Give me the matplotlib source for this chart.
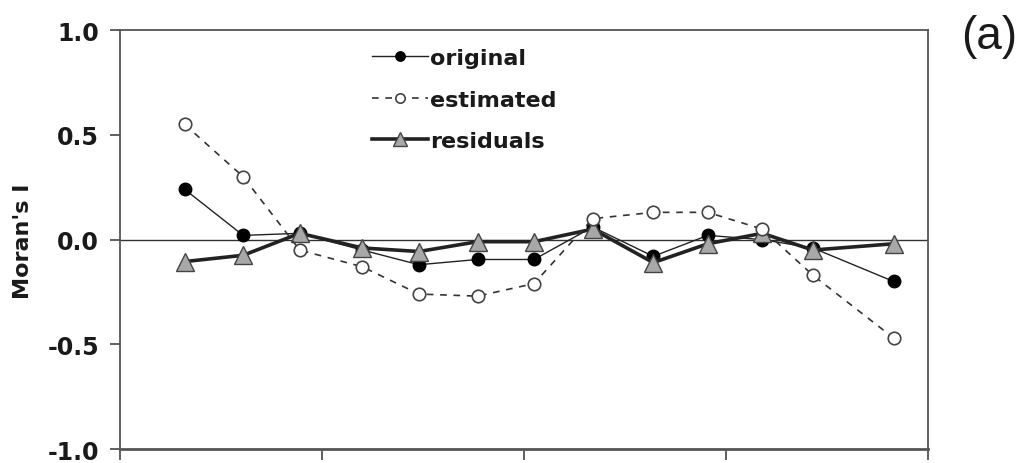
import numpy as np
import matplotlib.pyplot as plt

plt.rcParams['font.family'] = ['DejaVu Sans']
plt.rcParams['font.weight'] = 'bold'

# lag positions (axis has unlabelled ticks at 0..4)
lags = [0.32, 0.61, 0.89, 1.20, 1.48, 1.77, 2.05, 2.34, 2.64, 2.91, 3.18, 3.43, 3.83]
original = [0.24, 0.02, 0.03, -0.05, -0.12, -0.095, -0.095, 0.06, -0.08, 0.02, 0.0, -0.04, -0.20]
estimated = [0.55, 0.30, -0.05, -0.13, -0.26, -0.27, -0.21, 0.10, 0.13, 0.13, 0.05, -0.17, -0.47]
residuals = [-0.105, -0.075, 0.03, -0.04, -0.057, -0.01, -0.01, 0.05, -0.11, -0.02, 0.03, -0.05, -0.02]

fig = plt.figure(figsize=(10.2, 4.64), dpi=100)
ax = fig.add_axes([0.1176, 0.030, 0.7922, 0.903])

ax.axhline(0, color='#333333', lw=1.0, zorder=1)

ax.plot(lags, original, color='#222222', lw=1.0, marker='o', ms=9,
        mfc='black', mec='black', label='original', zorder=3)
ax.plot(lags, residuals, color='#222222', lw=2.6, marker='^', ms=13,
        mfc='#a8a8a8', mec='#444444', mew=1.0, label='residuals', zorder=4)
ax.plot(lags, estimated, color='#333333', lw=1.2, ls=(0, (4, 4)), marker='o', ms=9,
        mfc='white', mec='#444444', mew=1.2, label='estimated', zorder=5)

ax.set_xlim(0, 4)
ax.set_ylim(-1, 1)
ax.set_xticks([0, 1, 2, 3, 4])
ax.set_xticklabels([])
ax.set_yticks([-1.0, -0.5, 0.0, 0.5, 1.0])
ax.set_yticklabels(['-1.0', '-0.5', '0.0', '0.5', '1.0'])
ax.tick_params(axis='y', direction='out', length=7, width=1.2, color='#444444',
               labelsize=17, pad=8, labelcolor='#1a1a1a')
ax.tick_params(axis='x', direction='out', length=8, width=1.2, color='#444444')
for s in ax.spines.values():
    s.set_color('#555555')
    s.set_linewidth(1.3)
ax.spines['bottom'].set_linewidth(2.0)

fig.text(23 / 1020, 1 - 241 / 464, "Moran's I", rotation=90, fontsize=16,
         ha='center', va='center', color='#1a1a1a')

h, l = ax.get_legend_handles_labels()
order = [0, 2, 1]
ax.legend([h[i] for i in order], [l[i] for i in order], loc='upper left',
          bbox_to_anchor=(0.312, 0.957), frameon=False, fontsize=16,
          handlelength=2.5, handletextpad=0.1, labelspacing=0.97,
          borderaxespad=0, borderpad=0, markerscale=0.75, labelcolor='#1a1a1a')

fig.text(0.970, 0.920, '(a)', fontsize=33, fontweight='normal',
         family='Liberation Sans', ha='center', va='center', color='#1a1a1a')

fig.savefig('out.png', dpi=100)
